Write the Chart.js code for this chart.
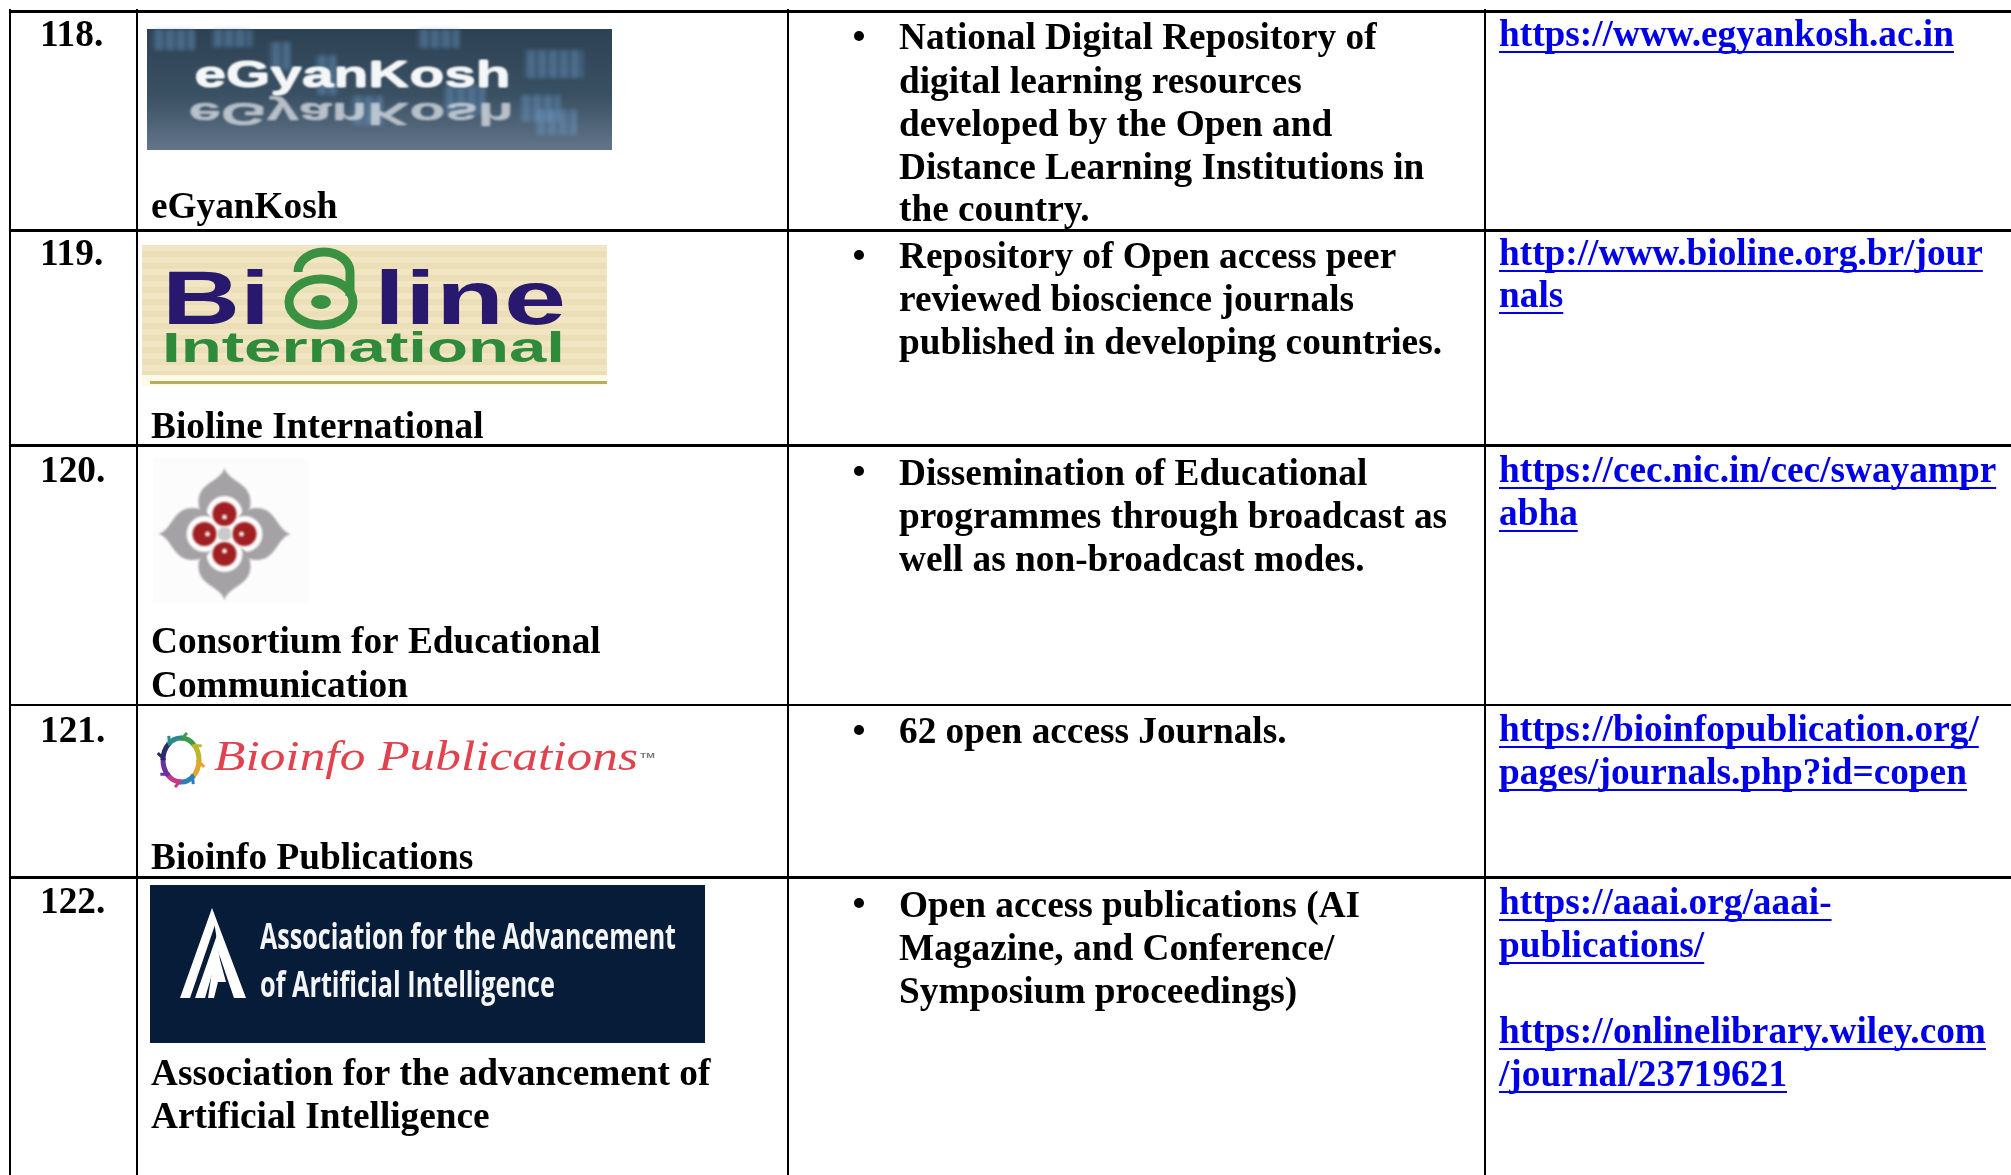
<!DOCTYPE html>
<html>
<head>
<meta charset="utf-8">
<title>Open access resources</title>
<script src="https://cdn.jsdelivr.net/npm/chart.js@4"></script>
<style>
  html, body { margin: 0; padding: 0; background: #fff; }
  canvas { display: block; }
</style>
</head>
<body>
<canvas id="tableChart" width="2011" height="1175"></canvas>
<script>
// --- table data ---
const columnEdges = [10, 137, 788, 1485];
const rowEdges = [11, 230, 445.5, 705, 877.5];
const rowEdgeWidths = [3, 3, 3, 2, 3];

const rowNumbers = ["118.", "119.", "120.", "121.", "122."];
const rowNumberX = [40, 40, 40, 40, 40];
const rowNumberY = [46, 265, 482, 742, 913];

const nameLines = [
  "eGyanKosh", "Bioline International", "Consortium for Educational", "Communication",
  "Bioinfo Publications", "Association for the advancement of", "Artificial Intelligence",
];
const nameX = [151, 151, 151, 151, 151, 151, 151];
const nameY = [218, 438, 653, 697, 869, 1085, 1128];

const descLines = [
  "National Digital Repository of", "digital learning resources", "developed by the Open and",
  "Distance Learning Institutions in", "the country.",
  "Repository of Open access peer", "reviewed bioscience journals", "published in developing countries.",
  "Dissemination of Educational", "programmes through broadcast as", "well as non-broadcast modes.",
  "62 open access Journals.",
  "Open access publications (AI", "Magazine, and Conference/", "Symposium proceedings)",
];
const descX = descLines.map(() => 899);
const descY = [49, 93, 136, 179, 221, 268, 311, 354, 485, 528, 571, 743, 917, 960, 1003];

const bulletX = [859, 859, 859, 859, 859];
const bulletY = [36, 255, 471, 730, 903];

const linkLines = [
  "https://www.egyankosh.ac.in", "http://www.bioline.org.br/jour", "nals",
  "https://cec.nic.in/cec/swayampr", "abha",
  "https://bioinfopublication.org/", "pages/journals.php?id=copen",
  "https://aaai.org/aaai-", "publications/",
  "https://onlinelibrary.wiley.com", "/journal/23719621",
];
const linkX = linkLines.map(() => 1499);
const linkY = [46, 265, 307, 482, 525, 741, 784, 914, 957, 1043, 1086];

const BODY_FONT = 'bold 37.3px "Liberation Serif"';
const LINK_COLOR = "#0000e6";

function toPoints(xs, ys) {
  return xs.map((x, i) => ({ x: x, y: ys[i] }));
}

// stretch a string to a given width, the logos are scaled up bitmaps in the source
function fitText(ctx, text, x, y, width, font, color) {
  ctx.save();
  ctx.font = font;
  ctx.fillStyle = color;
  ctx.textBaseline = "alphabetic";
  const w = ctx.measureText(text).width;
  ctx.translate(x, y);
  ctx.scale(width / w, 1);
  ctx.fillText(text, 0, 0);
  ctx.restore();
}

// --- logos ---
function drawEGyanKosh(ctx) {
  const g = ctx.createLinearGradient(0, 29, 0, 150);
  g.addColorStop(0, "#2d4254");
  g.addColorStop(0.55, "#3a5063");
  g.addColorStop(1, "#63758a");
  ctx.fillStyle = g;
  ctx.fillRect(147, 29, 465, 121);

  const blocks = [
    [153, 29, 42, 21], [212, 29, 38, 18], [418, 29, 41, 19], [525, 50, 59, 28], [520, 95, 39, 27],
    [535, 110, 42, 25], [270, 42, 21, 28], [316, 55, 21, 40], [352, 96, 31, 29], [444, 85, 41, 30],
  ];
  ctx.save();
  ctx.filter = "blur(2px)";
  blocks.forEach((b) => {
    ctx.fillStyle = "rgba(95,145,195,0.3)";
    ctx.fillRect(b[0], b[1], b[2], b[3]);
    ctx.fillStyle = "rgba(150,195,230,0.2)";
    for (let x = b[0] + 4; x < b[0] + b[2]; x += 11) ctx.fillRect(x, b[1], 4, b[3]);
  });
  ctx.restore();

  ctx.save();
  ctx.filter = "blur(1.2px)";
  fitText(ctx, "eGyanKosh", 194, 87, 316, 'bold 37px "Liberation Sans"', "#f4f6f7");
  fitText(ctx, "eGyanKosh", 195, 87, 316, 'bold 37px "Liberation Sans"', "#f4f6f7");
  ctx.globalAlpha = 0.55;
  ctx.translate(0, 103);
  ctx.scale(1, -0.85);
  fitText(ctx, "eGyanKosh", 188, 0, 325, 'bold 37px "Liberation Sans"', "#d5dbe0");
  fitText(ctx, "eGyanKosh", 189, 0, 325, 'bold 37px "Liberation Sans"', "#d5dbe0");
  ctx.restore();
}

function drawBioline(ctx) {
  for (let y = 245; y < 375; y += 6) {
    ctx.fillStyle = (y - 245) % 12 === 0 ? "#f1e5c4" : "#ebdfb7";
    ctx.fillRect(142, y, 465, 6);
  }
  ctx.fillStyle = "#fdfbe8";
  ctx.fillRect(142, 375, 465, 11);
  ctx.fillStyle = "#b5ae62";
  ctx.fillRect(150, 381, 457, 3);

  ctx.save();
  ctx.filter = "blur(0.7px)";
  fitText(ctx, "Bi", 162, 324, 108, 'bold 76px "Liberation Sans"', "#29196e");
  fitText(ctx, "line", 374, 324, 192, 'bold 76px "Liberation Sans"', "#29196e");
  fitText(ctx, "International", 162, 362, 403, 'bold 43px "Liberation Sans"', "#2f8a3c");

  ctx.strokeStyle = "#3b9142";
  ctx.lineWidth = 9;
  ctx.beginPath();
  ctx.ellipse(321, 302, 32, 23, 0, 0, Math.PI * 2);
  ctx.stroke();
  ctx.beginPath();
  ctx.moveTo(350, 296);
  ctx.lineTo(350, 272);
  ctx.ellipse(324, 272, 26, 20, 0, 0, Math.PI, true);
  ctx.stroke();
  ctx.fillStyle = "#3b9142";
  ctx.beginPath();
  ctx.ellipse(321, 302, 10, 7, 0, 0, Math.PI * 2);
  ctx.fill();
  ctx.restore();
}

function drawConsortium(ctx) {
  ctx.fillStyle = "#fcfcfc";
  ctx.fillRect(153, 458, 156, 145);
  ctx.save();
  ctx.filter = "blur(0.8px)";
  ctx.translate(224.5, 534);
  for (let i = 0; i < 4; i++) {
    ctx.save();
    ctx.rotate((i * Math.PI) / 2);
    ctx.fillStyle = "#a4a2a4";
    ctx.beginPath();
    ctx.moveTo(0, -66);
    ctx.bezierCurveTo(4, -52, 26, -52, 26, -32);
    ctx.bezierCurveTo(26, -22, 20, -14, 11, -11);
    ctx.lineTo(-11, -11);
    ctx.bezierCurveTo(-20, -14, -26, -22, -26, -32);
    ctx.bezierCurveTo(-26, -52, -4, -52, 0, -66);
    ctx.fill();
    ctx.fillStyle = "#fcfcfc";
    ctx.beginPath();
    ctx.arc(0, -20, 18, 0, Math.PI * 2);
    ctx.fill();
    ctx.restore();
  }
  for (let i = 0; i < 4; i++) {
    ctx.save();
    ctx.rotate((i * Math.PI) / 2);
    ctx.fillStyle = "#a01f22";
    ctx.beginPath();
    ctx.arc(0, -20, 12, 0, Math.PI * 2);
    ctx.fill();
    ctx.fillStyle = "#f5e6e6";
    ctx.beginPath();
    ctx.arc(0, -17, 2.5, 0, Math.PI * 2);
    ctx.fill();
    ctx.restore();
  }
  ctx.fillStyle = "#c9c9c9";
  ctx.beginPath();
  ctx.arc(0, 0, 7, 0, Math.PI * 2);
  ctx.fill();
  ctx.restore();
}

function drawBioinfo(ctx) {
  const ringColors = ["#3c9a48", "#b9b82c", "#e2a52a", "#2a7fb8", "#c03a8a", "#6a2fa0", "#2c2c6a", "#2a8a8a"];
  ctx.save();
  ctx.filter = "blur(0.5px)";
  ctx.lineWidth = 5;
  ringColors.forEach((c, i) => {
    const a = -Math.PI / 2 + (i * Math.PI) / 4;
    ctx.strokeStyle = c;
    ctx.beginPath();
    ctx.ellipse(181, 760, 18, 22, 0, a, a + Math.PI / 4 + 0.05);
    ctx.stroke();
    // little barbs on the wreath
    ctx.lineWidth = 3;
    ctx.beginPath();
    ctx.moveTo(181 + 16 * Math.cos(a), 760 + 20 * Math.sin(a));
    ctx.lineTo(181 + 24 * Math.cos(a + 0.25), 760 + 28 * Math.sin(a + 0.25));
    ctx.stroke();
    ctx.lineWidth = 5;
  });
  fitText(ctx, "Bioinfo Publications", 214, 770, 424, 'italic 42px "Liberation Serif"', "#e0434e");
  fitText(ctx, "TM", 640, 758, 15, 'bold 8px "Liberation Sans"', "#777777");
  ctx.restore();
}

function drawAaai(ctx) {
  ctx.fillStyle = "#061c38";
  ctx.fillRect(150, 885, 555, 158);
  ctx.save();
  ctx.filter = "blur(0.6px)";
  ctx.fillStyle = "#ffffff";
  const shapes = [
    [[212, 908], [216, 922], [190, 998], [180, 998]],
    [[218, 932], [221, 944], [205, 998], [195, 998]],
    [[212, 908], [246, 998], [234, 998], [216, 945], [208, 998], [214, 998], [218, 982], [226, 982], [220, 960]],
  ];
  shapes.forEach((s) => {
    ctx.beginPath();
    ctx.moveTo(s[0][0], s[0][1]);
    s.slice(1).forEach((p) => ctx.lineTo(p[0], p[1]));
    ctx.fill();
  });
  fitText(ctx, "Association for the Advancement", 260, 949, 416, 'bold 36px "Open Sans"', "#f2f4f6");
  fitText(ctx, "of Artificial Intelligence", 260, 997, 295, 'bold 36px "Open Sans"', "#f2f4f6");
  ctx.restore();
}

// draws the logos under the text and the text at the points the scales worked out
const cellTextPlugin = {
  id: "cellText",
  afterDatasetsDraw(chart) {
    const ctx = chart.ctx;
    drawEGyanKosh(ctx);
    drawBioline(ctx);
    drawConsortium(ctx);
    drawBioinfo(ctx);
    drawAaai(ctx);

    chart.data.datasets.forEach((ds, i) => {
      if (!ds.texts) return;
      const points = chart.getDatasetMeta(i).data;
      ctx.save();
      ctx.font = BODY_FONT;
      ctx.fillStyle = ds.textColor;
      ctx.textBaseline = "alphabetic";
      ds.texts.forEach((t, j) => {
        ctx.fillText(t, points[j].x, points[j].y);
        if (ds.underline) {
          ctx.fillRect(points[j].x, points[j].y + 5, ctx.measureText(t).width, 2);
        }
      });
      ctx.restore();
    });
  },
};

const chart = new Chart(document.getElementById("tableChart").getContext("2d"), {
  type: "scatter",
  data: {
    datasets: [
      { label: "No.", data: toPoints(rowNumberX, rowNumberY), texts: rowNumbers, textColor: "#000", pointRadius: 0 },
      { label: "Name", data: toPoints(nameX, nameY), texts: nameLines, textColor: "#000", pointRadius: 0 },
      { label: "Description", data: toPoints(descX, descY), texts: descLines, textColor: "#000", pointRadius: 0 },
      { label: "Bullets", data: toPoints(bulletX, bulletY), pointRadius: 5, backgroundColor: "#000", borderWidth: 0 },
      { label: "Link", data: toPoints(linkX, linkY), texts: linkLines, textColor: LINK_COLOR, underline: true, pointRadius: 0 },
    ],
  },
  options: {
    responsive: false,
    animation: false,
    events: [],
    layout: { autoPadding: false, padding: { left: 9, top: 9, right: 0, bottom: 0 } },
    plugins: { legend: { display: false }, tooltip: { enabled: false } },
    scales: {
      x: {
        type: "linear",
        min: 9,
        max: 2011,
        afterBuildTicks: (axis) => { axis.ticks = columnEdges.map((v) => ({ value: v })); },
        ticks: { display: false, autoSkip: false },
        border: { display: false },
        grid: { color: "#000", lineWidth: 2, drawTicks: false },
      },
      y: {
        type: "linear",
        reverse: true,
        min: 9,
        max: 1175,
        afterBuildTicks: (axis) => { axis.ticks = rowEdges.map((v) => ({ value: v })); },
        ticks: { display: false, autoSkip: false },
        border: { display: false },
        grid: { color: "#000", lineWidth: (c) => rowEdgeWidths[c.index], drawTicks: false },
      },
    },
  },
  plugins: [cellTextPlugin],
});
</script>
</body>
</html>
